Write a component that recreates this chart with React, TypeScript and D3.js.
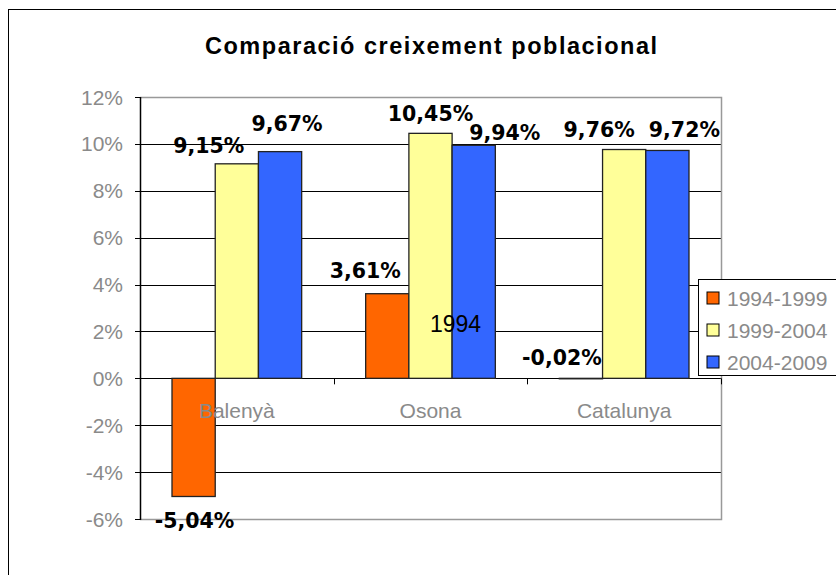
import React from "react";
import * as d3 from "d3";

const categories = ["Balenyà", "Osona", "Catalunya"];
const seriesNames = ["1994-1999", "1999-2004", "2004-2009"];
const values1994_1999 = [-5.04, 3.61, -0.02];
const values1999_2004 = [9.15, 10.45, 9.76];
const values2004_2009 = [9.67, 9.94, 9.72];
const yTicks = [-6, -4, -2, 0, 2, 4, 6, 8, 10, 12];
const title = "Comparació creixement poblacional";
const annotation = "1994";

const colors = ["#FF6600", "#FFFF99", "#3366FF"];
// manual label nudges [dx, dy] (series x category), as placed in the original
const labelNudge = [
  [[1, 31.5], [-22, -15.7], [-19, -13.8]],
  [[-28, -10.8], [0, -12.3], [-25, -12.5]],
  [[7, -20.6], [31, -5.3], [17, -13.4]],
];

const allSeries = [values1994_1999, values1999_2004, values2004_2009];

const fmt = (v: number) => v.toFixed(2).replace(".", ",") + "%";

export default function App() {
  const left = 140, right = 721, top = 97, bottom = 519;
  const y = d3.scaleLinear().domain([-6, 12]).range([bottom, top]);
  const x0 = d3.scaleBand().domain(categories).range([left, right]).paddingInner(0).paddingOuter(0);
  const groupPad = 32;
  const x1 = d3
    .scaleBand()
    .domain(seriesNames)
    .range([0, x0.bandwidth() - 2 * groupPad]);
  const y0 = y(0);
  const sans = "'Liberation Sans', Arial, sans-serif";
  const gray = "#8a8a8a";

  return (
    <svg width={836} height={575} style={{ position: "absolute", left: 0, top: 0 }}>
      <rect x={0} y={0} width={836} height={575} fill="#fff" />
      <rect x={8.5} y={9.5} width={840} height={600} fill="#fff" stroke="#000" strokeWidth={1} />
      <text
        x={431}
        y={54}
        textAnchor="middle"
        fontFamily={sans}
        fontWeight="bold"
        fontSize={23.5}
        textLength={452}
        lengthAdjust="spacing"
        fill="#000"
      >
        {title}
      </text>

      {/* gridlines */}
      {yTicks.map((t) => (
        <line
          key={"g" + t}
          x1={left - 5}
          x2={t === 12 || t === -6 ? left : right}
          y1={Math.round(y(t)) + 0.5}
          y2={Math.round(y(t)) + 0.5}
          stroke="#000"
          strokeWidth={1}
        />
      ))}
      {/* plot border gray */}
      <path
        d={`M${left},${Math.round(y(12)) + 0.5}H${right + 0.5}V${Math.round(y(-6)) + 0.5}H${left}`}
        fill="none"
        stroke="#999"
        strokeWidth={1.5}
      />
      {/* y tick labels */}
      {yTicks.map((t) => (
        <text
          key={"t" + t}
          x={123}
          y={y(t)}
          dy="0.36em"
          textAnchor="end"
          fontFamily={sans}
          fontSize={21}
          fill={gray}
        >
          {t + "%"}
        </text>
      ))}
      {/* category ticks */}
      {categories.map((c, i) => (
        <line
          key={"ct" + i}
          x1={Math.round(x0(c)!) + 0.5}
          x2={Math.round(x0(c)!) + 0.5}
          y1={y0}
          y2={y0 + 6}
          stroke="#000"
        />
      ))}
      <line x1={right + 0.5} x2={right + 0.5} y1={y0} y2={y0 + 6} stroke="#000" />

      {/* bars */}
      {categories.map((c, ci) =>
        allSeries.map((s, si) => {
          const v = s[ci];
          const bx = x0(c)! + groupPad + x1(seriesNames[si])!;
          const by = Math.min(y(v), y0);
          const bh = Math.abs(y(v) - y0);
          return (
            <rect
              key={`b${ci}-${si}`}
              x={bx}
              y={by}
              width={x1.bandwidth()}
              height={bh}
              fill={colors[si]}
              stroke="#222"
              strokeWidth={1.3}
            />
          );
        })
      )}
      {/* left axis */}
      <line x1={left + 0.5} x2={left + 0.5} y1={top} y2={bottom + 1} stroke="#000" strokeWidth={1.5} />

      {/* category labels */}
      {categories.map((c) => (
        <text
          key={"cl" + c}
          x={x0(c)! + x0.bandwidth() / 2}
          y={418}
          textAnchor="middle"
          fontFamily={sans}
          fontSize={21}
          fill={gray}
        >
          {c}
        </text>
      ))}

      {/* data labels */}
      {categories.map((c, ci) =>
        allSeries.map((s, si) => {
          const v = s[ci];
          const cx = x0(c)! + groupPad + x1(seriesNames[si])! + x1.bandwidth() / 2;
          const [dx, dy] = labelNudge[si][ci];
          return (
            <text
              key={`l${ci}-${si}`}
              x={cx + dx}
              y={y(v) + dy}
              textAnchor="middle"
              fontFamily="'DejaVu Sans', Verdana, sans-serif"
              fontWeight="bold"
              fontSize={20.5}
              fill="#000"
            >
              {fmt(v)}
            </text>
          );
        })
      )}

      <text x={430} y={332} fontFamily={sans} fontSize={23} fill="#000">
        {annotation}
      </text>

      {/* legend */}
      <rect x={698.5} y={279.5} width={150} height={96} fill="#fff" stroke="#000" strokeWidth={1} />
      {seriesNames.map((n, i) => (
        <g key={"lg" + n}>
          <rect
            x={707}
            y={292 + i * 32}
            width={12}
            height={12}
            fill={colors[i]}
            stroke="#000"
            strokeWidth={1}
          />
          <text x={727} y={298 + i * 32} dy="0.36em" fontFamily={sans} fontSize={21} fill={gray}>
            {n}
          </text>
        </g>
      ))}
    </svg>
  );
}
